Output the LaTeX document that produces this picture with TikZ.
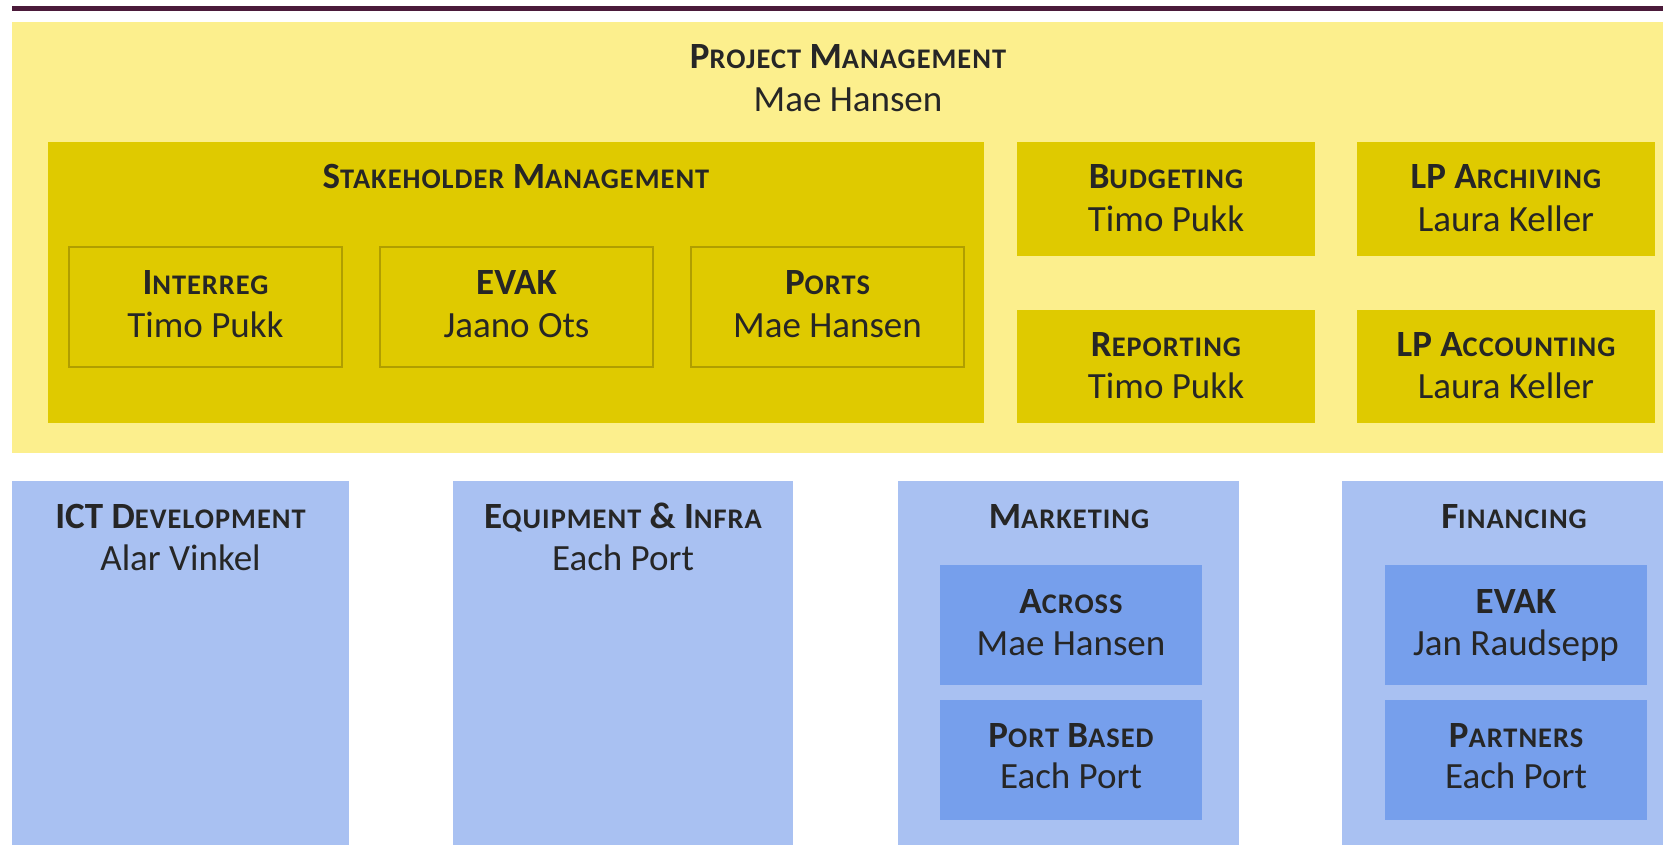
\documentclass[tikz,border=0pt]{standalone}
\usepackage{fontspec}
\setmainfont{Carlito}
\definecolor{paleY}{HTML}{FCEF8D}
\definecolor{darkY}{HTML}{DFCA00}
\definecolor{oliveB}{HTML}{B09E00}
\definecolor{lightB}{HTML}{A9C1F2}
\definecolor{midB}{HTML}{769FEC}
\definecolor{rule}{HTML}{4B1A3A}
\definecolor{ink}{HTML}{262626}
\newcommand\rbox[6]{\node[#1, minimum width={(#5-#3)*0.5pt}, minimum height={(#6-#4)*0.5pt}] (#2) at ({(#3+#5)/2},{(#4+#6)/2}) {};}
\newcommand\fsc[2]{#1{\fontsize{14.2}{16}\selectfont\addfontfeature{LetterSpace=3.5}#2}}
\tikzset{
  base/.style={inner sep=0pt, outer sep=0pt, rectangle},
  paleBox/.style={base, fill=paleY},
  darkBox/.style={base, fill=darkY},
  subBox/.style={base, draw=oliveB, line width=0.7pt},
  lightBox/.style={base, fill=lightB},
  midBox/.style={base, fill=midB},
  hd/.style={anchor=base, inner sep=0pt, text=ink, font=\fontsize{18.5}{22}\selectfont\bfseries},
  nm/.style={anchor=base, inner sep=0pt, text=ink, font=\fontsize{18.5}{22}\selectfont},
}
\begin{document}
\begin{tikzpicture}[x=0.5pt, y=-0.5pt]
\useasboundingbox (0,0) rectangle (1663,845);
\fill[white] (0,0) rectangle (1663,845);
\fill[rule] (12,6) rectangle (1663,11);
% top yellow area
\rbox{paleBox}{pm}{12}{22}{1663}{453}
\node[hd] (pmT) at (848,69) {\fsc{P}{ROJECT} \fsc{M}{ANAGEMENT}};
\node[nm] (pmN) at (848,112) {Mae Hansen};
% stakeholder
\rbox{darkBox}{sm}{48}{142}{984}{423}
\node[hd] (smT) at (516,189) {\fsc{S}{TAKEHOLDER} \fsc{M}{ANAGEMENT}};
\rbox{subBox}{ir}{69}{247}{342}{367}
\rbox{subBox}{ev}{380}{247}{653}{367}
\rbox{subBox}{po}{691}{247}{964}{367}
\node[hd] (irT) at (205.5,294) {\fsc{I}{NTERREG}};
\node[nm] (irN) at (205.5,337) {Timo Pukk};
\node[hd] (evT) at (516.5,294) {EVAK};
\node[nm] (evN) at (516.5,337) {Jaano Ots};
\node[hd] (poT) at (827.5,294) {\fsc{P}{ORTS}};
\node[nm] (poN) at (827.5,337) {Mae Hansen};
% right yellow boxes
\rbox{darkBox}{bu}{1017}{142}{1315}{256}
\rbox{darkBox}{re}{1017}{310}{1315}{423}
\rbox{darkBox}{ar}{1357}{142}{1655}{256}
\rbox{darkBox}{ac}{1357}{310}{1655}{423}
\node[hd] (buT) at (1166,189) {\fsc{B}{UDGETING}};
\node[nm] (buN) at (1166,232) {Timo Pukk};
\node[hd] (reT) at (1166,356) {\fsc{R}{EPORTING}};
\node[nm] (reN) at (1166,398) {Timo Pukk};
\node[hd] (arT) at (1506,189) {LP \fsc{A}{RCHIVING}};
\node[nm] (arN) at (1506,232) {Laura Keller};
\node[hd] (acT) at (1506,356) {LP \fsc{A}{CCOUNTING}};
\node[nm] (acN) at (1506,398) {Laura Keller};
% bottom blue boxes
\rbox{lightBox}{ict}{12}{481}{349}{845}
\rbox{lightBox}{eq}{453}{481}{793}{845}
\rbox{lightBox}{mk}{898}{481}{1239}{845}
\rbox{lightBox}{fi}{1342}{481}{1663}{845}
\node[hd] (ictT) at (180.5,528) {ICT \fsc{D}{EVELOPMENT}};
\node[nm] (ictN) at (180.5,570) {Alar Vinkel};
\node[hd] (eqT) at (623,528) {\fsc{E}{QUIPMENT} \& \fsc{I}{NFRA}};
\node[nm] (eqN) at (623,570) {Each Port};
\node[hd] (mkT) at (1069,528) {\fsc{M}{ARKETING}};
\node[hd] (fiT) at (1514,528) {\fsc{F}{INANCING}};
\rbox{midBox}{acr}{940}{565}{1202}{685}
\rbox{midBox}{pb}{940}{700}{1202}{820}
\rbox{midBox}{fev}{1385}{565}{1647}{685}
\rbox{midBox}{fpa}{1385}{700}{1647}{820}
\node[hd] (acrT) at (1071,613) {\fsc{A}{CROSS}};
\node[nm] (acrN) at (1071,655) {Mae Hansen};
\node[hd] (pbT) at (1071,747) {\fsc{P}{ORT} \fsc{B}{ASED}};
\node[nm] (pbN) at (1071,788) {Each Port};
\node[hd] (fevT) at (1516,613) {EVAK};
\node[nm] (fevN) at (1516,655) {Jan Raudsepp};
\node[hd] (fpaT) at (1516,747) {\fsc{P}{ARTNERS}};
\node[nm] (fpaN) at (1516,788) {Each Port};
\end{tikzpicture}
\end{document}
